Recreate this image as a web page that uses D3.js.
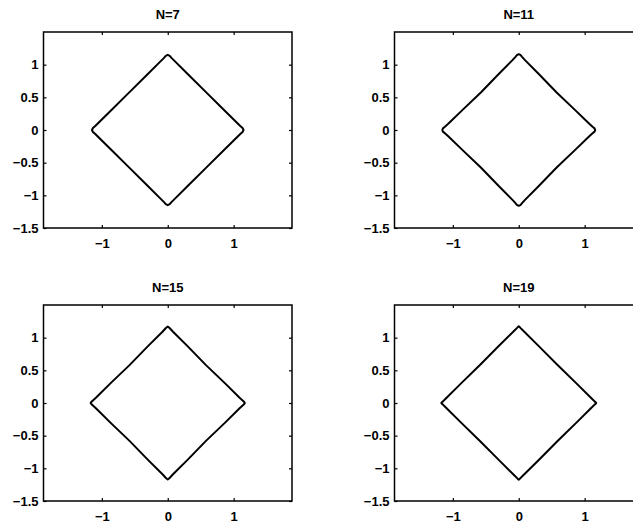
<!DOCTYPE html>
<html><head><meta charset="utf-8">
<script src="https://cdn.jsdelivr.net/npm/d3@7"></script>
<style>body{margin:0;background:#fff}svg{display:block}</style>
</head><body>
<script>
const titles = ["N=7", "N=11", "N=15", "N=19"];
const xTicks = [-1, 0, 1];
const yTicks = [-1.5, -1, -0.5, 0, 0.5, 1];
const yTickLabels = ["\u22121.5", "\u22121", "\u22120.5", "0", "0.5", "1"];
const xTickLabels = ["\u22121", "0", "1"];

const curveN7 = [[1.15,0],[1.135,0.03],[1.10,0.06],[1.05,0.11],[0.85,0.31],[0.58,0.58],[0.31,0.85],[0.11,1.05],[0.06,1.10],[0.03,1.135],
 [0,1.15],[-0.03,1.135],[-0.06,1.10],[-0.11,1.05],[-0.31,0.85],[-0.58,0.58],[-0.85,0.31],[-1.05,0.11],[-1.10,0.06],[-1.135,0.03],
 [-1.15,0],[-1.135,-0.03],[-1.10,-0.06],[-1.05,-0.11],[-0.85,-0.31],[-0.58,-0.58],[-0.31,-0.85],[-0.11,-1.05],[-0.06,-1.10],[-0.03,-1.135],
 [0,-1.15],[0.03,-1.135],[0.06,-1.10],[0.11,-1.05],[0.31,-0.85],[0.58,-0.58],[0.85,-0.31],[1.05,-0.11],[1.10,-0.06],[1.135,-0.03]];
const curveN11 = [[1.16,0],[1.15,0.025],[1.12,0.05],[1.07,0.095],[0.86,0.30],[0.575,0.575],[0.30,0.86],[0.095,1.07],[0.05,1.12],[0.025,1.15],
 [0,1.16],[-0.025,1.15],[-0.05,1.12],[-0.095,1.07],[-0.30,0.86],[-0.575,0.575],[-0.86,0.30],[-1.07,0.095],[-1.12,0.05],[-1.15,0.025],
 [-1.16,0],[-1.15,-0.025],[-1.12,-0.05],[-1.07,-0.095],[-0.86,-0.30],[-0.575,-0.575],[-0.30,-0.86],[-0.095,-1.07],[-0.05,-1.12],[-0.025,-1.15],
 [0,-1.16],[0.025,-1.15],[0.05,-1.12],[0.095,-1.07],[0.30,-0.86],[0.575,-0.575],[0.86,-0.30],[1.07,-0.095],[1.12,-0.05],[1.15,-0.025]];
const curveN15 = [[1.17,0],[1.16,0.015],[1.14,0.035],[1.09,0.08],[0.87,0.30],[0.58,0.58],[0.30,0.87],[0.08,1.09],[0.035,1.14],[0.015,1.16],
 [0,1.17],[-0.015,1.16],[-0.035,1.14],[-0.08,1.09],[-0.30,0.87],[-0.58,0.58],[-0.87,0.30],[-1.09,0.08],[-1.14,0.035],[-1.16,0.015],
 [-1.17,0],[-1.16,-0.015],[-1.14,-0.035],[-1.09,-0.08],[-0.87,-0.30],[-0.58,-0.58],[-0.30,-0.87],[-0.08,-1.09],[-0.035,-1.14],[-0.015,-1.16],
 [0,-1.17],[0.015,-1.16],[0.035,-1.14],[0.08,-1.09],[0.30,-0.87],[0.58,-0.58],[0.87,-0.30],[1.09,-0.08],[1.14,-0.035],[1.16,-0.015]];
const curveN19 = [[1.175,0],[1.17,0.008],[1.15,0.025],[1.11,0.065],[0.875,0.30],[0.585,0.585],[0.30,0.875],[0.065,1.11],[0.025,1.15],[0.008,1.17],
 [0,1.175],[-0.008,1.17],[-0.025,1.15],[-0.065,1.11],[-0.30,0.875],[-0.585,0.585],[-0.875,0.30],[-1.11,0.065],[-1.15,0.025],[-1.17,0.008],
 [-1.175,0],[-1.17,-0.008],[-1.15,-0.025],[-1.11,-0.065],[-0.875,-0.30],[-0.585,-0.585],[-0.30,-0.875],[-0.065,-1.11],[-0.025,-1.15],[-0.008,-1.17],
 [0,-1.175],[0.008,-1.17],[0.025,-1.15],[0.065,-1.11],[0.30,-0.875],[0.585,-0.585],[0.875,-0.30],[1.11,-0.065],[1.15,-0.025],[1.17,-0.008]];
const curves = [curveN7, curveN11, curveN15, curveN19];

const W = 633, H = 525;
const panels = [
  {x0: 43.5, x1: 292, y0: 32, y1: 228},
  {x0: 394.5, x1: 643, y0: 32, y1: 228},
  {x0: 43.5, x1: 292, y0: 305, y1: 501},
  {x0: 394.5, x1: 643, y0: 305, y1: 501}
];

const svg = d3.select("body").append("svg").attr("width", W).attr("height", H)
  .style("font-family", "'Liberation Sans', Arial, sans-serif");

panels.forEach((p, i) => {
  const x = d3.scaleLinear().domain([-1.885, 1.885]).range([p.x0, p.x1]);
  const y = d3.scaleLinear().domain([-1.5, 1.5]).range([p.y1, p.y0]);
  const g = svg.append("g");
  const tl = 3;
  const bx = g.append("g").attr("transform", `translate(0,${p.y1})`)
    .call(d3.axisBottom(x).tickValues(xTicks).tickSizeInner(-tl).tickSizeOuter(0).tickPadding(11)
      .tickFormat((d, k) => xTickLabels[k]));
  const tx = g.append("g").attr("transform", `translate(0,${p.y0})`)
    .call(d3.axisTop(x).tickValues(xTicks).tickSizeInner(-tl).tickSizeOuter(0).tickFormat(""));
  const ly = g.append("g").attr("transform", `translate(${p.x0},0)`)
    .call(d3.axisLeft(y).tickValues(yTicks).tickSizeInner(-tl).tickSizeOuter(0).tickPadding(5)
      .tickFormat((d, k) => yTickLabels[k]));
  const ry = g.append("g").attr("transform", `translate(${p.x1},0)`)
    .call(d3.axisRight(y).tickValues(yTicks).tickSizeInner(-tl).tickSizeOuter(0).tickFormat(""));
  [bx, tx, ly, ry].forEach(a => {
    a.select(".domain").remove();
    a.selectAll("line").attr("stroke", "#000").attr("stroke-width", 1.2);
    a.selectAll("text").attr("fill", "#000").style("font-size", "13px").style("font-weight", "bold");
  });
  g.append("rect").attr("x", p.x0).attr("y", p.y0).attr("width", p.x1 - p.x0).attr("height", p.y1 - p.y0)
    .attr("fill", "none").attr("stroke", "#000").attr("stroke-width", 1.5);
  g.append("path").datum(curves[i])
    .attr("d", d3.line().x(d => x(d[0])).y(d => y(d[1])).curve(d3.curveLinearClosed))
    .attr("fill", "none").attr("stroke", "#000").attr("stroke-width", 2)
    .attr("stroke-linejoin", "round");
  g.append("text").attr("x", x(0)).attr("y", p.y0 - 13).attr("text-anchor", "middle")
    .style("font-size", "13px").style("font-weight", "bold").text(titles[i]);
});
</script>
</body></html>
